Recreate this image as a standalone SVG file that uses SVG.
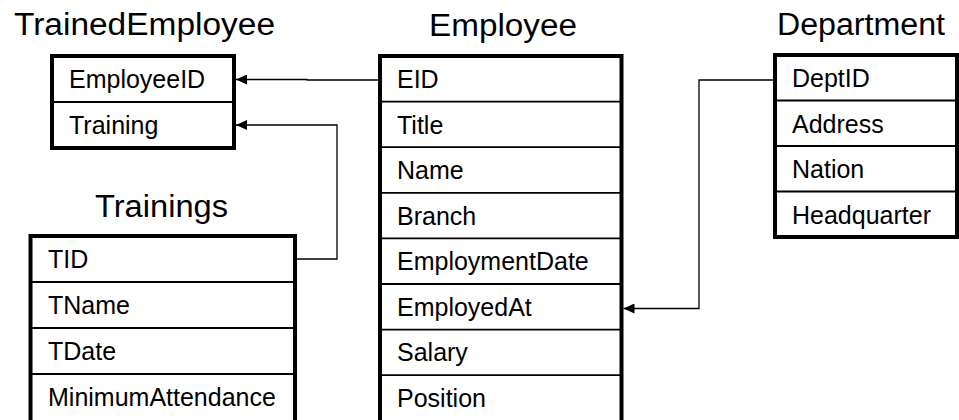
<svg xmlns="http://www.w3.org/2000/svg" width="959" height="420" viewBox="0 0 959 420">
  <style>
    .title { font-family: "Liberation Sans", Arial, sans-serif; font-size: 31px; fill: #000; }
    .field { font-family: "Liberation Sans", Arial, sans-serif; font-size: 25px; fill: #000; }
    .frame { fill: #fff; stroke: #000; stroke-width: 4; }
    .divider { stroke: #000; stroke-width: 1.8; fill: none; }
    .link { stroke: #000; stroke-width: 1.3; fill: none; }
  </style>
  <defs>
    <marker id="arrow" viewBox="0 0 11 10" refX="11" refY="5" markerWidth="11" markerHeight="10" markerUnits="userSpaceOnUse" orient="auto">
      <path d="M0,0 L11,5 L0,10 Z" fill="#000"/>
    </marker>
  </defs>
  <rect width="959" height="420" fill="#fff"/>

  <!-- connectors -->
  <g id="connectors">
    <path class="link" d="M380,80 H307 V79.5 H236" marker-end="url(#arrow)"/>
    <path class="link" d="M297,259 H337 V125 H236" marker-end="url(#arrow)"/>
    <path class="link" d="M773,80 H699 V308.5 H623.5" marker-end="url(#arrow)"/>
  </g>

  <!-- TrainedEmployee table -->
  <g id="trained-employee">
    <text class="title" x="14" y="35" textLength="261" lengthAdjust="spacingAndGlyphs">TrainedEmployee</text>
    <rect class="frame" x="52" y="56" width="182" height="92"/>
    <line class="divider" x1="52" y1="102" x2="234" y2="102"/>
    <text class="field" x="69" y="88">EmployeeID</text>
    <text class="field" x="69" y="134">Training</text>
  </g>

  <!-- Employee table -->
  <g id="employee">
    <text class="title" x="429" y="36" textLength="148" lengthAdjust="spacingAndGlyphs">Employee</text>
    <rect class="frame" x="380" y="56" width="241.5" height="366"/>
    <line class="divider" x1="380" y1="101.6" x2="621.5" y2="101.6"/>
    <line class="divider" x1="380" y1="147.2" x2="621.5" y2="147.2"/>
    <line class="divider" x1="380" y1="192.8" x2="621.5" y2="192.8"/>
    <line class="divider" x1="380" y1="238.4" x2="621.5" y2="238.4"/>
    <line class="divider" x1="380" y1="284" x2="621.5" y2="284"/>
    <line class="divider" x1="380" y1="329.6" x2="621.5" y2="329.6"/>
    <line class="divider" x1="380" y1="375.2" x2="621.5" y2="375.2"/>
    <text class="field" x="397" y="88">EID</text>
    <text class="field" x="397" y="134">Title</text>
    <text class="field" x="397" y="179">Name</text>
    <text class="field" x="397" y="225">Branch</text>
    <text class="field" x="397" y="270">EmploymentDate</text>
    <text class="field" x="397" y="316">EmployedAt</text>
    <text class="field" x="397" y="361">Salary</text>
    <text class="field" x="397" y="407">Position</text>
  </g>

  <!-- Trainings table -->
  <g id="trainings">
    <text class="title" x="95" y="217" textLength="133" lengthAdjust="spacingAndGlyphs">Trainings</text>
    <rect class="frame" x="30.5" y="236" width="264.5" height="186"/>
    <line class="divider" x1="30.5" y1="282" x2="295" y2="282"/>
    <line class="divider" x1="30.5" y1="328" x2="295" y2="328"/>
    <line class="divider" x1="30.5" y1="374" x2="295" y2="374"/>
    <text class="field" x="48" y="268">TID</text>
    <text class="field" x="48" y="314">TName</text>
    <text class="field" x="48" y="360">TDate</text>
    <text class="field" x="48" y="406">MinimumAttendance</text>
  </g>

  <!-- Department table -->
  <g id="department">
    <text class="title" x="777" y="35" textLength="168" lengthAdjust="spacingAndGlyphs">Department</text>
    <rect class="frame" x="775" y="55" width="182" height="182"/>
    <line class="divider" x1="775" y1="100.5" x2="957" y2="100.5"/>
    <line class="divider" x1="775" y1="146" x2="957" y2="146"/>
    <line class="divider" x1="775" y1="191.5" x2="957" y2="191.5"/>
    <text class="field" x="792" y="87">DeptID</text>
    <text class="field" x="792" y="133">Address</text>
    <text class="field" x="792" y="178">Nation</text>
    <text class="field" x="792" y="224">Headquarter</text>
  </g>
</svg>
